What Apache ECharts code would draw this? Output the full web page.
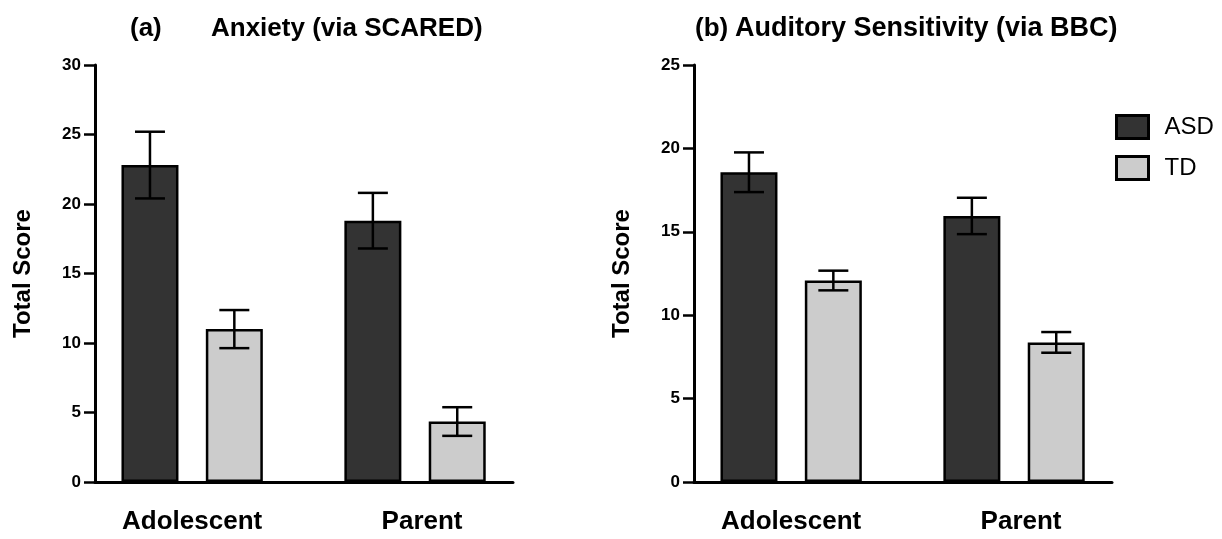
<!DOCTYPE html>
<html>
<head>
<meta charset="utf-8">
<script src="https://cdn.jsdelivr.net/npm/echarts@6/dist/echarts.min.js"></script>
<style>
  html, body { margin: 0; padding: 0; background: #fff; }
  #main { width: 1222px; height: 539px; }
</style>
</head>
<body>
<div id="main"></div>
<script>
// data
var categories = ['Adolescent', 'Parent'];
var groups = ['ASD', 'TD'];

// (a) anxiety
var anxietyAsd = [22.8, 18.8];
var anxietyAsdErr = [2.4, 2.0];
var anxietyTd = [11.0, 4.35];
var anxietyTdErr = [1.37, 1.03];

// (b) auditory sensitivity
var auditoryAsd = [18.57, 15.95];
var auditoryAsdErr = [1.19, 1.09];
var auditoryTd = [12.08, 8.37];
var auditoryTdErr = [0.59, 0.62];

var anxietyTicks = [0, 30, 5];   // min, max, step
var auditoryTicks = [0, 25, 5];

var FONT = 'Liberation Sans';
var BAR_W = 57;
var BAR_GAP = 0.48;
var CAP = 15;

var myChart = echarts.init(document.getElementById('main'));

function catData() {
    return categories.map(function (c, i) {
        // the second label sits a little right of its group in the original
        return i == 1 ? {value: c, textStyle: {padding: [0, 0, 0, 14]}} : c;
    });
}

function barSeries(name, vals, color, axis) {
    return {
        name: name,
        type: 'bar',
        xAxisIndex: axis,
        yAxisIndex: axis,
        barWidth: BAR_W,
        barGap: (BAR_GAP * 100) + '%',
        data: vals,
        itemStyle: {color: color, borderColor: '#000', borderWidth: 2.5},
        z: 2
    };
}

function errSeries(vals, errs, side, axis) {
    return {
        type: 'custom',
        xAxisIndex: axis,
        yAxisIndex: axis,
        data: vals.map(function (v, i) { return [i, v, errs[i]]; }),
        encode: {x: 0, y: 1},
        z: 5,
        silent: true,
        renderItem: function (params, api) {
            var v = api.value(1), e = api.value(2);
            var hi = api.coord([api.value(0), v + e]);
            var lo = api.coord([api.value(0), v - e]);
            var cx = hi[0] + side * (BAR_W + BAR_W * BAR_GAP) / 2;
            var st = {stroke: '#000', lineWidth: 2.5};
            return {
                type: 'group',
                children: [
                    {type: 'line', shape: {x1: cx, y1: hi[1], x2: cx, y2: lo[1]}, style: st},
                    {type: 'line', shape: {x1: cx - CAP, y1: hi[1], x2: cx + CAP, y2: hi[1]}, style: st},
                    {type: 'line', shape: {x1: cx - CAP, y1: lo[1], x2: cx + CAP, y2: lo[1]}, style: st}
                ]
            };
        }
    };
}

function visibleY(grid, ticks) {
    return {
        gridIndex: grid,
        type: 'value',
        min: ticks[0], max: ticks[1], interval: ticks[2],
        name: 'Total Score',
        nameLocation: 'middle',
        nameRotate: 90,
        nameGap: 60,
        nameTextStyle: {fontFamily: FONT, fontSize: 24, fontWeight: 'bold', color: '#000'},
        axisLine: {show: true, lineStyle: {color: '#000', width: 3}},
        axisTick: {show: true, length: 11, lineStyle: {color: '#000', width: 2.5}},
        axisLabel: {fontFamily: FONT, fontSize: 17, fontWeight: 'bold', color: '#000', margin: 14},
        splitLine: {show: false}
    };
}

function hiddenY(grid, ticks) {
    return {gridIndex: grid, type: 'value', min: ticks[0], max: ticks[1], show: false};
}

function catX(grid) {
    return {
        gridIndex: grid,
        type: 'category',
        data: catData(),
        axisLine: {show: false},
        axisTick: {show: false},
        axisLabel: {fontFamily: FONT, fontSize: 26, fontWeight: 'bold', color: '#000', margin: 27}
    };
}

function baseX(grid) {
    return {
        gridIndex: grid,
        type: 'value',
        min: 0, max: 1,
        axisLine: {show: true, onZero: false, lineStyle: {color: '#000', width: 3}},
        axisTick: {show: false},
        axisLabel: {show: false},
        splitLine: {show: false}
    };
}

var titleA = {fontFamily: FONT, fontSize: 26, fontWeight: 'bold', color: '#000'};
var titleB = {fontFamily: FONT, fontSize: 27, fontWeight: 'bold', color: '#000'};

option = {
    backgroundColor: '#fff',
    animation: false,
    title: [
        {text: '(a)', left: 125, top: 11, textStyle: titleA},
        {text: 'Anxiety (via SCARED)', left: 206, top: 11, textStyle: titleA},
        {text: '(b)', left: 690, top: 11, textStyle: titleA},
        {text: 'Auditory Sensitivity (via BBC)', left: 730, top: 10, textStyle: titleB}
    ],
    legend: {
        data: groups,
        orient: 'vertical',
        left: 1110,
        top: 109,
        icon: 'rect',
        itemWidth: 32,
        itemHeight: 23,
        itemGap: 15,
        itemStyle: {borderColor: '#000', borderWidth: 3},
        textStyle: {fontFamily: FONT, fontSize: 24, color: '#000', padding: [0, 0, 0, 11]}
    },
    grid: [
        {left: 80.7, top: 65, width: 445.8, height: 417},
        {left: 95, top: 65, width: 418, height: 417},
        {left: 679.7, top: 65, width: 445.8, height: 417},
        {left: 694, top: 65, width: 418, height: 417}
    ],
    xAxis: [catX(0), baseX(1), catX(2), baseX(3)],
    yAxis: [hiddenY(0, anxietyTicks), visibleY(1, anxietyTicks), hiddenY(2, auditoryTicks), visibleY(3, auditoryTicks)],
    series: [
        barSeries('ASD', anxietyAsd, '#333333', 0),
        barSeries('TD', anxietyTd, '#cccccc', 0),
        errSeries(anxietyAsd, anxietyAsdErr, -1, 0),
        errSeries(anxietyTd, anxietyTdErr, 1, 0),
        barSeries('ASD', auditoryAsd, '#333333', 2),
        barSeries('TD', auditoryTd, '#cccccc', 2),
        errSeries(auditoryAsd, auditoryAsdErr, -1, 2),
        errSeries(auditoryTd, auditoryTdErr, 1, 2)
    ]
};
myChart.setOption(option);
</script>
</body>
</html>
